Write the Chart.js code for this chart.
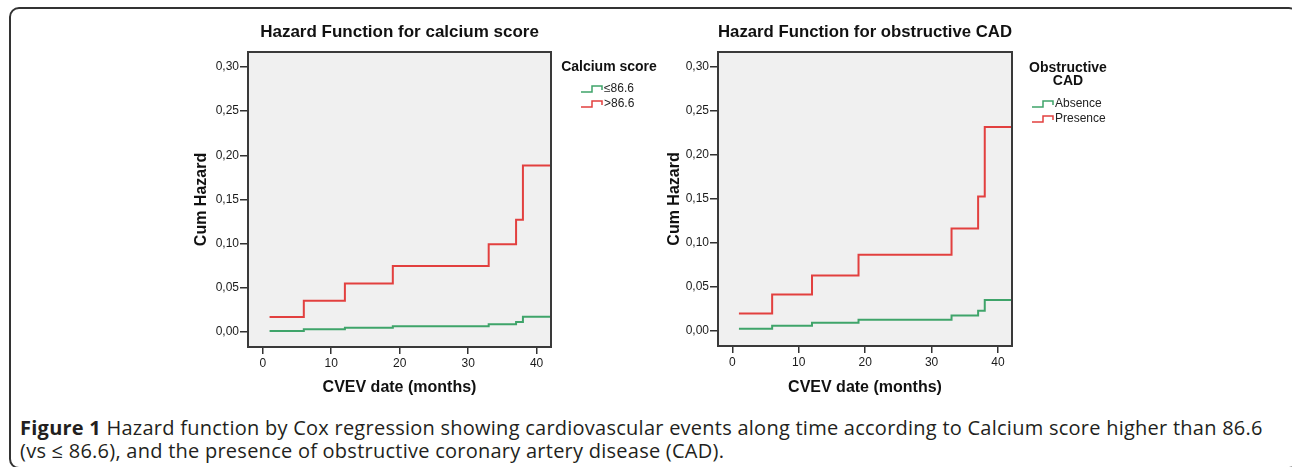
<!DOCTYPE html>
<html><head><meta charset="utf-8">
<script src="https://cdn.jsdelivr.net/npm/chart.js@4.4.1/dist/chart.umd.min.js"></script>
<style>
html,body{margin:0;padding:0;background:#fff;width:1292px;height:467px;overflow:hidden;}
#frame{position:absolute;left:9px;top:7px;width:1290px;height:462px;border:2px solid #333;border-radius:10px;box-sizing:border-box;}
canvas{position:absolute;top:0;}
#caption{position:absolute;left:20px;top:416px;font-family:'Open Sans','Noto Sans',sans-serif;font-size:20px;letter-spacing:0.25px;line-height:23px;color:#231f20;white-space:nowrap;}
</style></head><body>
<div id="frame"></div>
<canvas id="c1" width="540" height="400" style="left:150px"></canvas>
<canvas id="c2" width="580" height="400" style="left:620px"></canvas>
<div id="caption"><b>Figure 1</b> Hazard function by Cox regression showing cardiovascular events along time according to Calcium score higher than 86.6<br>(vs ≤ 86.6), and the presence of obstructive coronary artery disease (CAD).</div>
<script>
// ---- data ----
const times = [1, 6, 12, 19, 33, 37, 38, 42];
const calciumLow = [0.0012, 0.003, 0.0047, 0.0064, 0.0087, 0.0113, 0.0173, 0.0173];
const calciumHigh = [0.017, 0.0354, 0.0548, 0.0748, 0.0992, 0.127, 0.1886, 0.1886];
const cadAbsence = [0.0027, 0.006, 0.0095, 0.0128, 0.0177, 0.023, 0.0352, 0.0352];
const cadPresence = [0.020, 0.0416, 0.063, 0.0867, 0.1166, 0.1528, 0.2318, 0.2318];
const xTicks = [0, 10, 20, 30, 40];
const yTicks = [0, 0.05, 0.10, 0.15, 0.20, 0.25, 0.30];
const calciumLabels = ['\u226486.6', '>86.6'];
const cadLabels = ['Absence', 'Presence'];

const FONT = "'Liberation Sans', Arial, sans-serif";
const GREEN = '#3fa46a';
const RED = '#e2403f';

function toPts(vals) { return times.map((t, i) => ({x: t, y: vals[i]})); }

const framePlugin = {
  id: 'framePlugin',
  beforeDraw(chart) {
    const a = chart.chartArea, c = chart.ctx;
    c.save(); c.fillStyle = '#f0f0f0';
    c.fillRect(a.left, a.top, a.right - a.left, a.bottom - a.top);
    c.restore();
  },
  afterDraw(chart) {
    const a = chart.chartArea, c = chart.ctx;
    const o = chart.options.plugins.framePlugin;
    c.save();
    c.strokeStyle = '#3a3a3a'; c.lineWidth = 2;
    c.strokeRect(a.left, a.top, a.right - a.left, a.bottom - a.top);
    // legend
    c.fillStyle = '#111';
    c.textAlign = 'center'; c.textBaseline = 'middle';
    c.font = 'bold 14px ' + FONT;
    o.legendTitle.forEach((t, i) => c.fillText(t, a.right + o.titleDx, o.titleY + i * 13.5));
    chart.data.datasets.forEach((ds, i) => {
      const x0 = a.right + o.iconDx, y = o.itemY + i * 15;
      c.strokeStyle = ds.borderColor; c.lineWidth = 1.5;
      c.beginPath();
      c.moveTo(x0, y + 3); c.lineTo(x0 + 11, y + 3); c.lineTo(x0 + 11, y - 3);
      c.lineTo(x0 + 21, y - 3); c.lineTo(x0 + 21, y + 1);
      c.stroke();
      c.fillStyle = '#222'; c.textAlign = 'left';
      c.font = '12px ' + FONT;
      c.fillText(ds.label, x0 + 23, y);
    });
    c.restore();
  }
};

function makeChart(id, title, labels, lowVals, highVals, cfg) {
  return new Chart(document.getElementById(id), {
    type: 'line',
    data: {
      datasets: [
        {label: labels[0], data: toPts(lowVals), borderColor: GREEN},
        {label: labels[1], data: toPts(highVals), borderColor: RED}
      ]
    },
    options: {
      responsive: false, animation: false, events: [],
      layout: {padding: {left: 40, right: cfg.padRight, top: 0, bottom: 0}},
      elements: {point: {radius: 0}, line: {stepped: true, borderWidth: 2, tension: 0}},
      plugins: {
        legend: {display: false}, tooltip: {enabled: false},
        title: {display: true, text: title, fullSize: false, color: '#111',
          font: {family: FONT, size: 17, weight: 'bold'}, padding: {top: 22, bottom: 9.6}},
        framePlugin: cfg.legend
      },
      scales: {
        x: {
          type: 'linear', min: -2.15, max: 42.1,
          afterBuildTicks: s => { s.ticks = xTicks.map(v => ({value: v})); },
          afterFit: s => { s.height = cfg.xH; },
          grid: {drawOnChartArea: false, drawTicks: true, tickLength: 7, color: '#333', lineWidth: 1.5},
          border: {display: false},
          ticks: {padding: 2, color: '#1a1a1a', maxRotation: 0, autoSkip: false,
            font: {family: FONT, size: 12}, callback: v => String(v)},
          title: {display: true, text: 'CVEV date (months)', color: '#111',
            font: {family: FONT, size: 16, weight: 'bold'}, padding: {top: 0, bottom: 2.4}}
        },
        y: {
          type: 'linear', min: -0.017, max: 0.317,
          afterBuildTicks: s => { s.ticks = yTicks.map(v => ({value: v})); },
          afterFit: s => { s.width = 58; },
          grid: {drawOnChartArea: false, drawTicks: true, tickLength: 8, color: '#333', lineWidth: 1.5},
          border: {display: false},
          ticks: {padding: 1, color: '#1a1a1a', autoSkip: false,
            font: {family: FONT, size: 12}, callback: v => v.toFixed(2).replace('.', ',')},
          title: {display: true, text: 'Cum Hazard', color: '#111',
            font: {family: FONT, size: 16, weight: 'bold'}, padding: {top: cfg.yTitlePad, bottom: 0}}
        }
      }
    },
    plugins: [framePlugin]
  });
}

makeChart('c1', 'Hazard Function for calcium score', calciumLabels, calciumLow, calciumHigh,
  {padRight: 139, xH: 53, yTitlePad: 2.4,
   legend: {legendTitle: ['Calcium score'], titleDx: 58, titleY: 67, iconDx: 30, itemY: 89}});
makeChart('c2', 'Hazard Function for obstructive CAD', cadLabels, cadAbsence, cadPresence,
  {padRight: 188, xH: 54, yTitlePad: 5.4,
   legend: {legendTitle: ['Obstructive', 'CAD'], titleDx: 56, titleY: 68, iconDx: 20, itemY: 104}});
</script>
</body></html>
